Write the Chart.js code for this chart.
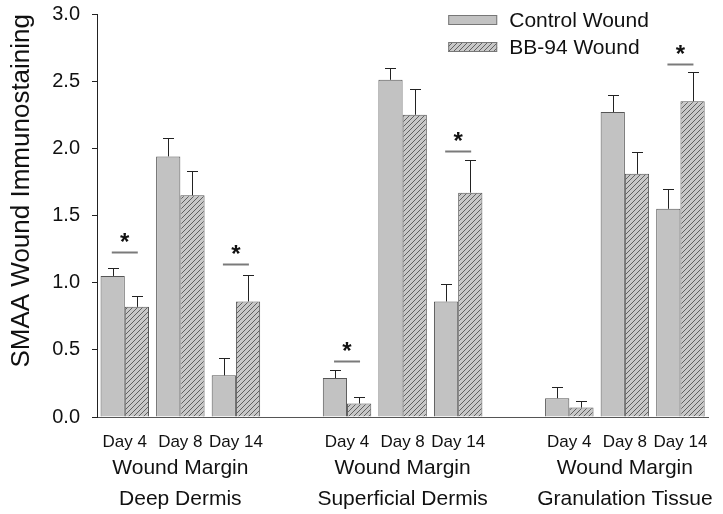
<!DOCTYPE html>
<html>
<head>
<meta charset="utf-8">
<script src="https://cdn.jsdelivr.net/npm/chart.js@4.4.1/dist/chart.umd.min.js"></script>
<style>
  html, body { margin: 0; padding: 0; background: #ffffff; }
  #wrap { width: 723px; height: 514px; }
</style>
</head>
<body>
<div id="wrap"><canvas id="c" width="723" height="514"></canvas></div>
<script>
// ---- data ----
const days = ['Day 4', 'Day 8', 'Day 14'];
const regions = [
  ['Wound Margin', 'Deep Dermis'],
  ['Wound Margin', 'Superficial Dermis'],
  ['Wound Margin', 'Granulation Tissue']
];
const seriesNames = ['Control Wound', 'BB-94 Wound'];
const controlMean = [1.05, 1.94, 0.31, 0.29, 2.51, 0.86, 0.14, 2.27, 1.55];
const controlErr  = [0.06, 0.14, 0.13, 0.06, 0.09, 0.13, 0.08, 0.13, 0.15];
const bb94Mean    = [0.82, 1.65, 0.86, 0.10, 2.25, 1.67, 0.07, 1.81, 2.35];
const bb94Err     = [0.08, 0.18, 0.20, 0.05, 0.19, 0.24, 0.05, 0.16, 0.22];
const sigLevel    = [1.23, null, 1.14, 0.42, null, 1.98, null, null, 2.63];
const yTicks = [0, 0.5, 1.0, 1.5, 2.0, 2.5, 3.0];

// ---- build slot arrays (one empty slot between region groups) ----
const slotLabels = [], regionSlotLabels = [], ctrlSlots = [], bbSlots = [], ctrlErrSlots = [], bbErrSlots = [], sigSlots = [];
regions.forEach((r, g) => {
  days.forEach((d, k) => {
    const i = g * days.length + k;
    slotLabels.push(d);
    regionSlotLabels.push(k === 1 ? r : '');
    ctrlSlots.push(controlMean[i]); bbSlots.push(bb94Mean[i]);
    ctrlErrSlots.push(controlErr[i]); bbErrSlots.push(bb94Err[i]);
    sigSlots.push(sigLevel[i]);
  });
  if (g < regions.length - 1) {
    slotLabels.push(''); regionSlotLabels.push('');
    ctrlSlots.push(null); bbSlots.push(null);
    ctrlErrSlots.push(null); bbErrSlots.push(null); sigSlots.push(null);
  }
});

const FONT = "'Liberation Sans', Arial, Helvetica, sans-serif";
const CTRL_FILL = '#c2c2c2';
const EDGE = '#555555';

function makeHatch() {
  const c = document.createElement('canvas');
  c.width = 5; c.height = 5;
  const x = c.getContext('2d');
  x.fillStyle = '#c8c8c8';
  x.fillRect(0, 0, 5, 5);
  x.strokeStyle = '#606060';
  x.lineWidth = 1;
  x.beginPath();
  x.moveTo(-1, 6); x.lineTo(6, -1);
  x.moveTo(-1, 1); x.lineTo(1, -1);
  x.moveTo(4, 6); x.lineTo(6, 4);
  x.stroke();
  return x.createPattern(c, 'repeat');
}
const HATCH = makeHatch();

const errorBars = {
  id: 'errorBars',
  afterDatasetsDraw(chart) {
    const ctx = chart.ctx, y = chart.scales.y;
    const errs = [ctrlErrSlots, bbErrSlots];
    ctx.save();
    ctx.strokeStyle = '#222222';
    ctx.lineWidth = 1;
    chart.data.datasets.forEach((ds, di) => {
      const meta = chart.getDatasetMeta(di);
      meta.data.forEach((el, i) => {
        const v = ds.data[i], e = errs[di][i];
        if (v == null || e == null) return;
        const x = Math.round(el.x) + 0.5;
        const yTop = Math.round(y.getPixelForValue(v + e)) + 0.5;
        const yBar = y.getPixelForValue(v);
        ctx.beginPath();
        ctx.moveTo(x, yBar); ctx.lineTo(x, yTop);
        ctx.moveTo(x - 5.5, yTop); ctx.lineTo(x + 5.5, yTop);
        ctx.stroke();
      });
    });
    ctx.restore();
  }
};

const significance = {
  id: 'significance',
  afterDatasetsDraw(chart) {
    const ctx = chart.ctx, xs = chart.scales.x, y = chart.scales.y;
    ctx.save();
    sigSlots.forEach((s, i) => {
      if (s == null) return;
      const cx = xs.getPixelForValue(i);
      const ly = Math.round(y.getPixelForValue(s)) + 0.5;
      ctx.strokeStyle = '#7a7a7a';
      ctx.lineWidth = 2;
      ctx.beginPath();
      ctx.moveTo(cx - 13, ly); ctx.lineTo(cx + 13, ly);
      ctx.stroke();
      ctx.fillStyle = '#111111';
      ctx.font = 'bold 24px ' + FONT;
      ctx.textAlign = 'center';
      ctx.textBaseline = 'alphabetic';
      ctx.fillText('*', cx, ly - 3);
    });
    ctx.restore();
  }
};

const boxLegend = {
  id: 'boxLegend',
  afterDraw(chart) {
    const ctx = chart.ctx, a = chart.chartArea;
    const x0 = a.right - 260;
    const rows = [a.top + 6, a.top + 33];
    ctx.save();
    chart.data.datasets.forEach((ds, i) => {
      const cy = rows[i];
      ctx.fillStyle = ds.backgroundColor;
      ctx.fillRect(x0, cy - 5, 49, 10);
      ctx.strokeStyle = '#777777';
      ctx.lineWidth = 1;
      ctx.strokeRect(x0 + 0.5, cy - 4.5, 48, 9);
      ctx.fillStyle = '#111111';
      ctx.font = '21px ' + FONT;
      ctx.textAlign = 'left';
      ctx.textBaseline = 'middle';
      ctx.fillText(ds.label, x0 + 61, cy + 1);
    });
    ctx.restore();
  }
};

new Chart(document.getElementById('c'), {
  type: 'bar',
  data: {
    labels: slotLabels,
    datasets: [
      { label: seriesNames[0], data: ctrlSlots, backgroundColor: CTRL_FILL, borderColor: EDGE, borderWidth: 1, xAxisID: 'x', yAxisID: 'y' },
      { label: seriesNames[1], data: bbSlots, backgroundColor: HATCH, borderColor: EDGE, borderWidth: 1, xAxisID: 'x', yAxisID: 'y' }
    ]
  },
  options: {
    responsive: false,
    animation: false,
    devicePixelRatio: 1,
    layout: { padding: { top: 14, right: 14, bottom: 0, left: 0 } },
    datasets: { bar: { categoryPercentage: 0.872, barPercentage: 1.0 } },
    plugins: { legend: { display: false }, tooltip: { enabled: false } },
    scales: {
      x: {
        type: 'category',
        position: 'bottom',
        weight: 0,
        grid: { display: false, drawTicks: false },
        border: { display: true, color: '#555555', width: 1 },
        ticks: { autoSkip: false, maxRotation: 0, minRotation: 0, padding: 15, color: '#111111', font: { family: FONT, size: 17 } },
        afterFit(s) { s.height = 36; }
      },
      x2: {
        type: 'category',
        position: 'bottom',
        weight: 1,
        labels: regionSlotLabels,
        grid: { display: false, drawTicks: false },
        border: { display: false },
        ticks: { autoSkip: false, maxRotation: 0, minRotation: 0, padding: 0, color: '#111111', font: { family: FONT, size: 21, lineHeight: 1.476 } },
        afterFit(s) { s.height = 61; }
      },
      y: {
        min: 0, max: 3,
        afterBuildTicks(s) { s.ticks = yTicks.map(v => ({ value: v })); },
        grid: { drawOnChartArea: false, drawTicks: true, tickLength: 5, color: '#222222' },
        border: { display: true, color: '#222222', width: 1 },
        ticks: { padding: 12, color: '#111111', font: { family: FONT, size: 20 }, callback: v => Number(v).toFixed(1) },
        title: { display: true, align: 'end', text: 'SMAA Wound Immunostaining', color: '#111111', font: { family: FONT, size: 26 }, padding: { top: 6, bottom: 0 } },
        afterFit(s) { s.width = 97; s.paddingTop = 0; s.paddingBottom = 0; }
      }
    }
  },
  plugins: [errorBars, significance, boxLegend]
});
</script>
</body>
</html>
